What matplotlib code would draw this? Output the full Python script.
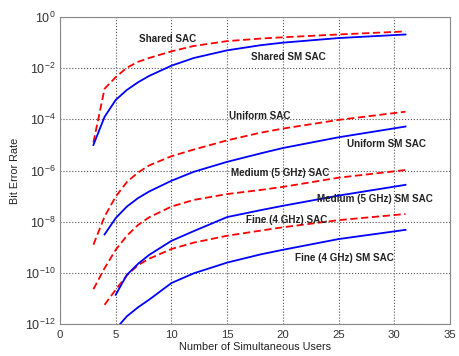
import numpy as np
import matplotlib
matplotlib.use('Agg')
import matplotlib.pyplot as plt

plt.rcParams['font.family'] = ['Liberation Sans', 'DejaVu Sans']
plt.rcParams['mathtext.default'] = 'regular'

# number of simultaneous users for each curve
x_shared = [3, 4, 5, 6, 7, 8, 10, 12, 15, 18, 20, 25, 31]
x_uniform_sac = [3, 4, 5, 6, 7, 8, 10, 12, 15, 18, 20, 25, 31]
x_uniform_sm = [4, 5, 6, 7, 8, 10, 12, 15, 18, 20, 25, 31]
x_medium_sac = [3, 4, 5, 6, 7, 8, 10, 12, 15, 18, 20, 25, 31]
x_medium_sm = [5, 6, 7, 8, 10, 12, 15, 18, 20, 25, 31]
x_fine_sac = [4, 5, 6, 7, 8, 10, 12, 15, 18, 20, 25, 31]
x_fine_sm = [5, 6, 7, 8, 10, 12, 15, 18, 20, 25, 31]

# bit error rate, as log10 exponents
shared_sac = [-4.9, -2.8, -2.35, -1.98, -1.75, -1.6, -1.34, -1.13, -0.94, -0.84, -0.79, -0.68, -0.56]
shared_sm = [-5.0, -3.9, -3.24, -2.85, -2.55, -2.3, -1.9, -1.6, -1.3, -1.1, -1.0, -0.82, -0.68]
uniform_sac = [-8.9, -7.8, -7.02, -6.45, -6.08, -5.8, -5.44, -5.18, -4.82, -4.52, -4.36, -4.02, -3.70]
uniform_sm = [-8.5, -7.86, -7.41, -7.08, -6.82, -6.4, -6.05, -5.66, -5.33, -5.12, -4.7, -4.28]
medium_sac = [-10.64, -9.82, -9.1, -8.55, -8.13, -7.83, -7.41, -7.15, -6.92, -6.76, -6.64, -6.28, -5.98]
medium_sm = [-10.86, -10.08, -9.65, -9.3, -8.75, -8.37, -7.82, -7.55, -7.38, -6.98, -6.56]
fine_sac = [-11.25, -10.66, -10.1, -9.7, -9.45, -9.07, -8.82, -8.55, -8.35, -8.22, -7.94, -7.7]
fine_sm = [-12.2, -11.7, -11.35, -11.05, -10.4, -10.02, -9.6, -9.28, -9.1, -8.68, -8.32]

labels = ['Shared SAC', 'Shared SM SAC', 'Uniform SAC', 'Uniform SM SAC',
          'Medium (5 GHz) SAC', 'Medium (5 GHz) SM SAC',
          'Fine (4 GHz) SAC', 'Fine (4 GHz) SM SAC']
label_x = [9.65, 20.5, 17.9, 29.3, 19.75, 28.3, 20.3, 25.5]
label_exp = [-0.86, -1.56, -3.85, -4.96, -6.08, -7.1, -7.92, -9.41]

fig = plt.figure(figsize=(4.6, 3.56), dpi=100)
ax = fig.add_axes([0.1304, 0.09, 0.848, 0.862])

sac = [(x_shared, shared_sac), (x_uniform_sac, uniform_sac),
       (x_medium_sac, medium_sac), (x_fine_sac, fine_sac)]
sm = [(x_shared, shared_sm), (x_uniform_sm, uniform_sm),
      (x_medium_sm, medium_sm), (x_fine_sm, fine_sm)]

# SAC curves dashed red, SM SAC curves solid blue
for xs, ys in sac:
    ax.plot(xs, 10.0 ** np.array(ys), color='#ff0000', ls=(0, (4, 2)), lw=1.3)
for xs, ys in sm:
    ax.plot(xs, 10.0 ** np.array(ys), color='#0000ff', ls='-', lw=1.3)

for txt, lx, le in zip(labels, label_x, label_exp):
    ax.text(lx, 10.0 ** le, txt, ha='center', va='center', fontsize=7.1,
            fontweight='bold', color='#222222')

ax.set_yscale('log')
ax.set_xlim(0, 35)
ax.set_ylim(1e-12, 1)
ax.set_xticks(range(0, 36, 5))
ax.set_yticks([10.0 ** e for e in range(-12, 1, 2)])
ax.set_yticklabels(['$10^{%d}$' % e for e in range(-12, 1, 2)])
ax.minorticks_off()
ax.tick_params(axis='x', labelsize=8.2, length=0, pad=4, colors='#333333')
ax.tick_params(axis='y', labelsize=9, length=0, pad=3, colors='#333333')
ax.grid(True, ls=':', color='#555555', lw=0.8)
for s in ax.spines.values():
    s.set_color('#888888')

ax.set_xlabel('Number of Simultaneous Users', fontsize=7.8, labelpad=2, color='#222222')
ax.set_ylabel('Bit Error Rate', fontsize=7.8, labelpad=4, color='#222222')

fig.savefig('out.png', dpi=100)
